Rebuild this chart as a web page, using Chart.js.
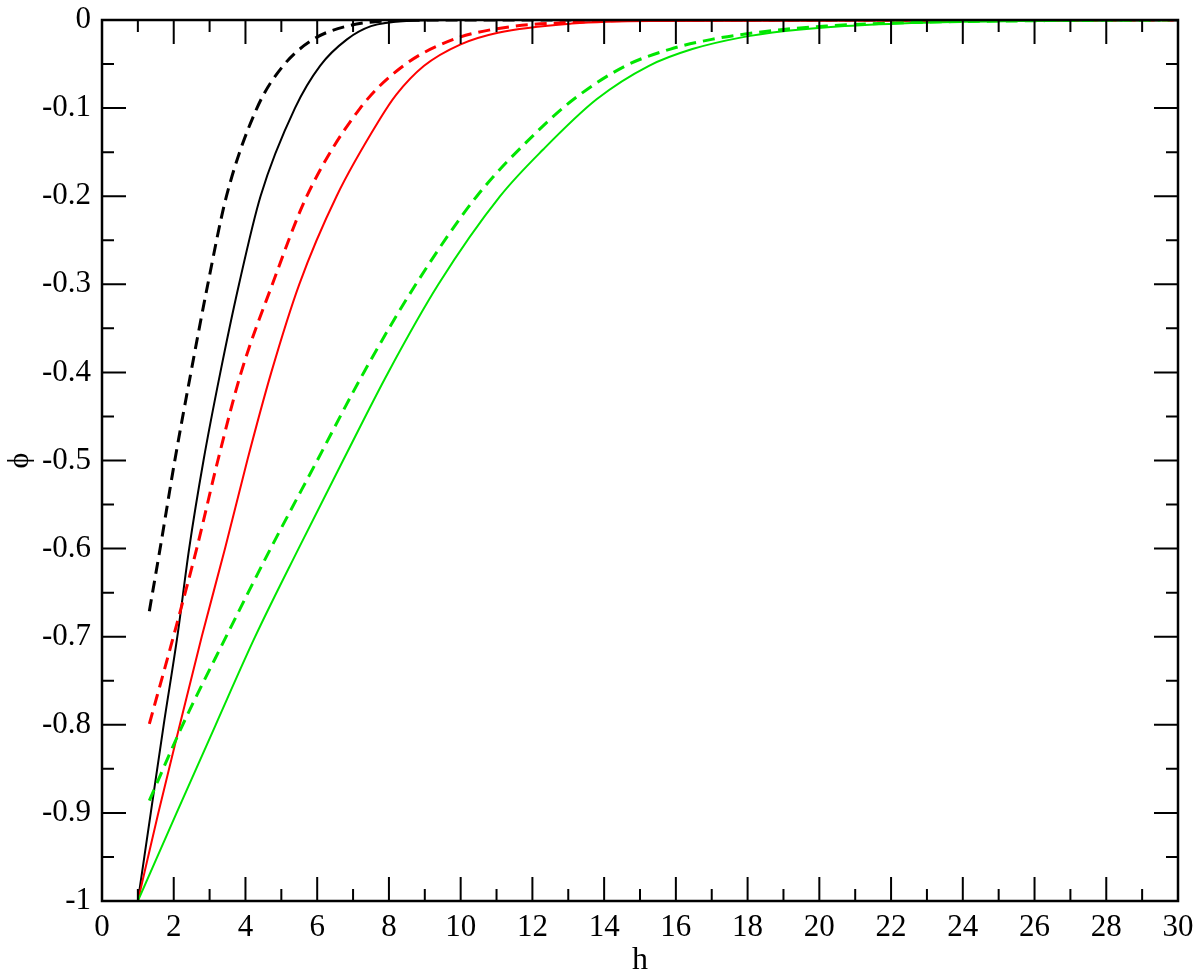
<!DOCTYPE html>
<html>
<head>
<meta charset="utf-8">
<script src="https://cdn.jsdelivr.net/npm/chart.js"></script>
<style>
    body { margin: 0; background: #fff; font-family: 'Liberation Serif', serif; }
    #warm { position: absolute; left: -9999px; top: 0; font: 30px 'Liberation Serif'; }
</style>
</head>
<body>
<span id="warm">0.123456789 h ϕ</span>
<canvas id="myChart" width="1200" height="980"></canvas>

<script>
    // values (h, phi)
    const hTicks = [0, 2, 4, 6, 8, 10, 12, 14, 16, 18, 20, 22, 24, 26, 28, 30];
    const phiTicks = [-1, -0.9, -0.8, -0.7, -0.6, -0.5, -0.4, -0.3, -0.2, -0.1, 0];

    const hBlackSolid   = [1.0, 1.36, 1.72, 2.10, 2.43, 2.83, 3.30, 3.82, 4.42, 5.38, 6.08, 6.83, 7.50, 8.5, 10, 30];
    const phiBlackSolid = [-1, -0.9, -0.8, -0.7, -0.6, -0.5, -0.4, -0.3, -0.2, -0.1, -0.052, -0.022, -0.007, -0.001, 0, 0];

    const hBlackDashed   = [1.32, 1.62, 2.03, 2.48, 2.95, 3.47, 4.32, 5.05, 5.89, 6.83, 8.0, 10, 30];
    const phiBlackDashed = [-0.671, -0.6, -0.5, -0.4, -0.3, -0.2, -0.1, -0.052, -0.022, -0.007, -0.001, 0, 0];

    const hRedSolid   = [1.0, 1.57, 2.17, 2.78, 3.43, 4.05, 4.72, 5.50, 6.54, 7.74, 8.2, 8.98, 10.0, 11.04, 13.1, 15.3, 30];
    const phiRedSolid = [-1, -0.9, -0.8, -0.7, -0.6, -0.5, -0.4, -0.3, -0.2, -0.113, -0.085, -0.052, -0.0276, -0.0144, -0.004, -0.001, 0];

    const hRedDashed   = [1.32, 1.99, 2.64, 3.23, 3.88, 4.75, 5.71, 7.2, 8.4, 9.8, 11.2, 13.5, 16, 30];
    const phiRedDashed = [-0.799, -0.7, -0.6, -0.5, -0.4, -0.3, -0.2, -0.1, -0.052, -0.022, -0.0087, -0.002, 0, 0];

    const hGreenSolid   = [1.0, 2.08, 3.17, 4.27, 5.48, 6.72, 7.98, 9.38, 11.1, 12.3, 13.79, 15.25, 16.46, 17.8, 19.05, 20.7, 22.9, 25.8, 30];
    const phiGreenSolid = [-1, -0.9, -0.8, -0.7, -0.6, -0.5, -0.4, -0.3, -0.2, -0.147, -0.090, -0.052, -0.033, -0.020, -0.0125, -0.0068, -0.003, -0.001, 0];

    const hGreenDashed   = [1.32, 2.25, 3.46, 4.70, 6.0, 7.3, 8.75, 10.45, 12.1, 13.15, 14.6, 15.85, 17.0, 18.6, 20.2, 22.4, 25.5, 30];
    const phiGreenDashed = [-0.886, -0.8, -0.7, -0.6, -0.5, -0.4, -0.3, -0.2, -0.128, -0.090, -0.052, -0.033, -0.022, -0.0125, -0.0068, -0.003, -0.001, 0];

    const BLACK = '#000000';
    const RED = '#ff0000';
    const GREEN = '#00e600';
    const FONT = "'Liberation Serif'";

    const toPoints = (hs, ps) => hs.map((h, i) => ({x: h, y: ps[i]}));

    const curve = (hs, ps, color, dashed) => ({
        data: toPoints(hs, ps),
        showLine: true,
        borderColor: color,
        borderWidth: dashed ? 3 : 2,
        borderDash: dashed ? [12, 7] : [],
        pointRadius: 0,
        fill: false,
        cubicInterpolationMode: 'monotone'
    });

    // ticks point inward on all four sides, like the original
    const frameTicks = {
        id: 'frameTicks',
        afterDraw(chart) {
            const {ctx, chartArea: a, scales: {x, y}} = chart;
            ctx.save();
            ctx.strokeStyle = BLACK;
            ctx.lineWidth = 2;
            ctx.beginPath();
            for (let v = 0; v <= 30; v += 1) {
                const px = x.getPixelForValue(v);
                const len = v % 2 === 0 ? 24 : 12;
                ctx.moveTo(px, a.bottom); ctx.lineTo(px, a.bottom - len);
                ctx.moveTo(px, a.top); ctx.lineTo(px, a.top + len);
            }
            for (let i = 0; i <= 20; i++) {
                const py = y.getPixelForValue(-i * 0.05);
                const len = i % 2 === 0 ? 24 : 12;
                ctx.moveTo(a.left, py); ctx.lineTo(a.left + len, py);
                ctx.moveTo(a.right, py); ctx.lineTo(a.right - len, py);
            }
            ctx.stroke();
            ctx.lineWidth = 2.5;
            ctx.strokeRect(a.left, a.top, a.right - a.left, a.bottom - a.top);
            ctx.restore();
        }
    };

    const ctx = document.getElementById('myChart');

    const draw = () => new Chart(ctx, {
        type: 'scatter',
        data: {
            datasets: [
                curve(hGreenSolid, phiGreenSolid, GREEN, false),
                curve(hGreenDashed, phiGreenDashed, GREEN, true),
                curve(hRedSolid, phiRedSolid, RED, false),
                curve(hRedDashed, phiRedDashed, RED, true),
                curve(hBlackSolid, phiBlackSolid, BLACK, false),
                curve(hBlackDashed, phiBlackDashed, BLACK, true)
            ]
        },
        options: {
            responsive: false,
            animation: false,
            layout: { padding: { top: 20, right: 22, left: 0, bottom: 0 } },
            plugins: {
                legend: { display: false },
                tooltip: { enabled: false }
            },
            scales: {
                x: {
                    type: 'linear',
                    min: 0,
                    max: 30,
                    afterFit: scale => {
                        scale.height = 79;
                        scale.paddingLeft = 0;
                        scale.paddingRight = 0;
                    },
                    afterBuildTicks: scale => { scale.ticks = hTicks.map(v => ({value: v})); },
                    grid: { display: false, drawTicks: false },
                    border: { display: false },
                    ticks: {
                        color: BLACK,
                        padding: 8,
                        maxRotation: 0,
                        autoSkip: false,
                        font: { family: FONT, size: 31 },
                        callback: v => String(v)
                    },
                    title: {
                        display: true,
                        text: 'h',
                        color: BLACK,
                        padding: { top: 0, bottom: 0 },
                        font: { family: FONT, size: 32 }
                    }
                },
                y: {
                    type: 'linear',
                    min: -1,
                    max: 0,
                    afterFit: scale => {
                        scale.width = 102;
                        scale.paddingTop = 0;
                        scale.paddingBottom = 0;
                    },
                    afterBuildTicks: scale => { scale.ticks = phiTicks.map(v => ({value: v})); },
                    grid: { display: false, drawTicks: false },
                    border: { display: false },
                    ticks: {
                        color: BLACK,
                        padding: 11,
                        autoSkip: false,
                        font: { family: FONT, size: 31 },
                        callback: v => v === 0 ? '0' : String(+v.toFixed(1))
                    },
                    title: {
                        display: true,
                        text: 'ϕ',
                        color: BLACK,
                        padding: { top: 2, bottom: 0 },
                        font: { family: FONT, size: 30 }
                    }
                }
            }
        },
        plugins: [frameTicks]
    });

    document.fonts.load("30px 'Liberation Serif'").then(draw, draw);
</script>
</body>
</html>
